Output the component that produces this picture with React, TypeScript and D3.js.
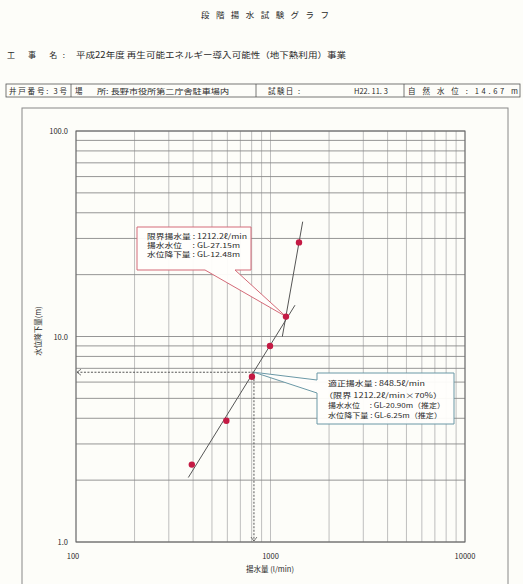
import React from "react";
import * as d3 from "d3";

// ---- data ----
const flowQ = [394, 593, 803, 994, 1201, 1401]; // 揚水量 (l/min)
const drawdown = [2.38, 3.89, 6.37, 8.99, 12.5, 28.7]; // 水位降下量 (m)
const line1Q = [378, 1336];
const line1S = [2.06, 14.2];
const line2Q = [1150, 1464];
const line2S = [9.98, 36.2];
const criticalQ = 1201;
const criticalS = 12.5;
const optimalQ = 822;
const optimalS = 6.7;
const xTickLabels = ["100", "1000", "10000"];
const xTickValues = [100, 1000, 10000];
const yTickLabels = ["1.0", "10.0", "100.0"];
const yTickValues = [1, 10, 100];
const redLines = ["限界揚水量 : 1212.2ℓ/min", "揚水水位　 : GL-27.15m", "水位降下量 : GL-12.48m"];
const blueLines = ["適正揚水量 : 848.5ℓ/min", "（限界 1212.2ℓ/min×70%）", "揚水水位　 : GL-20.90m（推定）", "水位降下量 : GL-6.25m（推定）"];

const FONT = "'Noto Sans CJK JP', 'Noto Sans', sans-serif";

export default function App() {
  const W = 523, H = 584;
  const L = 76, R = 465, T = 131, B = 542;
  const x = d3.scaleLog().domain([100, 10000]).range([L, R]);
  const y = d3.scaleLog().domain([1, 100]).range([B, T]);
  const xGrid = x.ticks();
  const yGrid = y.ticks();

  const ox = x(optimalQ), oy = y(optimalS);
  const cx = x(criticalQ), cy = y(criticalS);

  // red callout box
  const rb = { x0: 137, y0: 227, x1: 251, y1: 270, t1: 205, t2: 235 };
  const redPath = `M${rb.x0},${rb.y0}H${rb.x1}V${rb.y1}H${rb.t2}L${cx},${cy}L${rb.t1},${rb.y1}H${rb.x0}Z`;
  const redLayout = [{ x: 147, y: 238.5, w: 100 }, { x: 147, y: 247.5, w: 93 }, { x: 147, y: 256.5, w: 93 }];
  // blue callout box
  const bb = { x0: 317, y0: 373, x1: 454, y1: 424, t1: 380, t2: 393 };
  const bluePath = `M${bb.x0},${bb.y0}H${bb.x1}V${bb.y1}H${bb.x0}V${bb.t2}L${ox},${oy}L${bb.x0},${bb.t1}Z`;
  const blueLayout = [{ x: 328, y: 386, w: 97 }, { x: 324, y: 398, w: 118 }, { x: 328, y: 408, w: 117 }, { x: 328, y: 418, w: 114 }];

  const ink = "#2a2a2a";

  return (
    <svg width={W} height={H} style={{ position: "absolute", left: 0, top: 0, background: "#fdfdf9" }} fontFamily={FONT}>
      <rect x={0} y={0} width={W} height={H} fill="#fdfdf9" />
      {/* header */}
      <text x={201} y={18} fontSize={8.5} fill={ink} textLength={128} lengthAdjust="spacing">段階揚水試験グラフ</text>
      <text x={7} y={58} fontSize={8} fill={ink} textLength={58} lengthAdjust="spacing">工 事 名:</text>
      <text x={76} y={58} fontSize={8.5} fill={ink} textLength={270} lengthAdjust="spacingAndGlyphs">平成22年度 再生可能エネルギー導入可能性（地下熱利用）事業</text>
      {/* info table */}
      <rect x={6} y={84} width={514} height={13} fill="none" stroke="#555" strokeWidth={0.8} />
      <line x1={71} x2={71} y1={84} y2={97} stroke="#555" strokeWidth={0.8} />
      <line x1={256} x2={256} y1={84} y2={97} stroke="#555" strokeWidth={0.8} />
      <line x1={404} x2={404} y1={84} y2={97} stroke="#555" strokeWidth={0.8} />
      <text x={9} y={94} fontSize={7.5} fill={ink} textLength={58} lengthAdjust="spacing">井戸番号: 3号</text>
      <text x={75} y={94} fontSize={7.5} fill={ink}>場</text>
      <text x={97} y={94} fontSize={6.5} fill={ink} textLength={132} lengthAdjust="spacingAndGlyphs">所: 長野市役所第二庁舎駐車場内</text>
      <text x={268} y={94} fontSize={7.5} fill={ink} textLength={32} lengthAdjust="spacing">試験日 :</text>
      <text x={354} y={94} fontSize={7.5} fill={ink}>H22. 11. 3</text>
      <text x={408} y={94} fontSize={7.5} fill={ink} textLength={110} lengthAdjust="spacing">自 然 水 位 :  14.67 m</text>
      {/* outer frame */}
      <rect x={22} y={108} width={486} height={490} fill="none" stroke="#888" strokeWidth={1} />
      {/* grid */}
      {xGrid.map((v, i) => (
        <line key={"gx" + i} x1={x(v)} x2={x(v)} y1={T} y2={B} stroke="#b8b8b8" strokeWidth={0.9} />
      ))}
      {yGrid.map((v, i) => (
        <line key={"gy" + i} x1={L} x2={R} y1={y(v)} y2={y(v)} stroke="#8a8a8a" strokeWidth={0.9} />
      ))}
      <rect x={L} y={T} width={R - L} height={B - T} fill="none" stroke="#666" strokeWidth={1} />
      {/* tick labels */}
      {yTickValues.map((v, i) => (
        <text key={"yt" + i} x={68} y={y(v) + 3} fontSize={7.5} textAnchor="end" fill={ink}>{yTickLabels[i]}</text>
      ))}
      {xTickValues.map((v, i) => (
        <text key={"xt" + i} x={x(v) - (i === 0 ? 3 : 0)} y={559} fontSize={7.5} textAnchor="middle" fill={ink}>{xTickLabels[i]}</text>
      ))}
      <text x={270} y={572} fontSize={7.5} textAnchor="middle" fill={ink}>揚水量 (l/min)</text>
      <text transform="translate(41,331) rotate(-90)" fontSize={7.5} textAnchor="middle" fill={ink}>水位降下量(m)</text>
      {/* fit lines */}
      <line x1={x(line1Q[0])} y1={y(line1S[0])} x2={x(line1Q[1])} y2={y(line1S[1])} stroke="#555" strokeWidth={1} />
      <line x1={x(line2Q[0])} y1={y(line2S[0])} x2={x(line2Q[1])} y2={y(line2S[1])} stroke="#555" strokeWidth={1} />
      {/* dashed guides */}
      <line x1={ox} y1={oy} x2={L + 1} y2={oy} stroke="#555" strokeWidth={1} strokeDasharray="2,1.5" />
      <line x1={ox} y1={oy} x2={ox} y2={B - 1} stroke="#555" strokeWidth={1} strokeDasharray="2,1.5" />
      <path d={`M${L + 5},${oy - 3}L${L + 1},${oy}L${L + 5},${oy + 3}`} fill="none" stroke="#555" strokeWidth={0.8} />
      <path d={`M${ox - 3},${B - 5}L${ox},${B - 1}L${ox + 3},${B - 5}`} fill="none" stroke="#555" strokeWidth={0.8} />
      {/* callouts */}
      <path d={redPath} fill="#fffefc" fillOpacity={0.95} stroke="#d46a78" strokeWidth={1} />
      {redLines.map((t, i) => (
        <text key={"r" + i} x={redLayout[i].x} y={redLayout[i].y} fontSize={7} fill={ink} textLength={redLayout[i].w} lengthAdjust="spacingAndGlyphs">{t}</text>
      ))}
      <path d={bluePath} fill="#fffefc" fillOpacity={0.95} stroke="#6a98a6" strokeWidth={1} />
      {blueLines.map((t, i) => (
        <text key={"b" + i} x={blueLayout[i].x} y={blueLayout[i].y} fontSize={7} fill={ink} textLength={blueLayout[i].w} lengthAdjust="spacingAndGlyphs">{t}</text>
      ))}
      {/* points */}
      {flowQ.map((q, i) => (
        <circle key={"p" + i} cx={x(q)} cy={y(drawdown[i])} r={3.2} fill="#c41a44" />
      ))}
    </svg>
  );
}
